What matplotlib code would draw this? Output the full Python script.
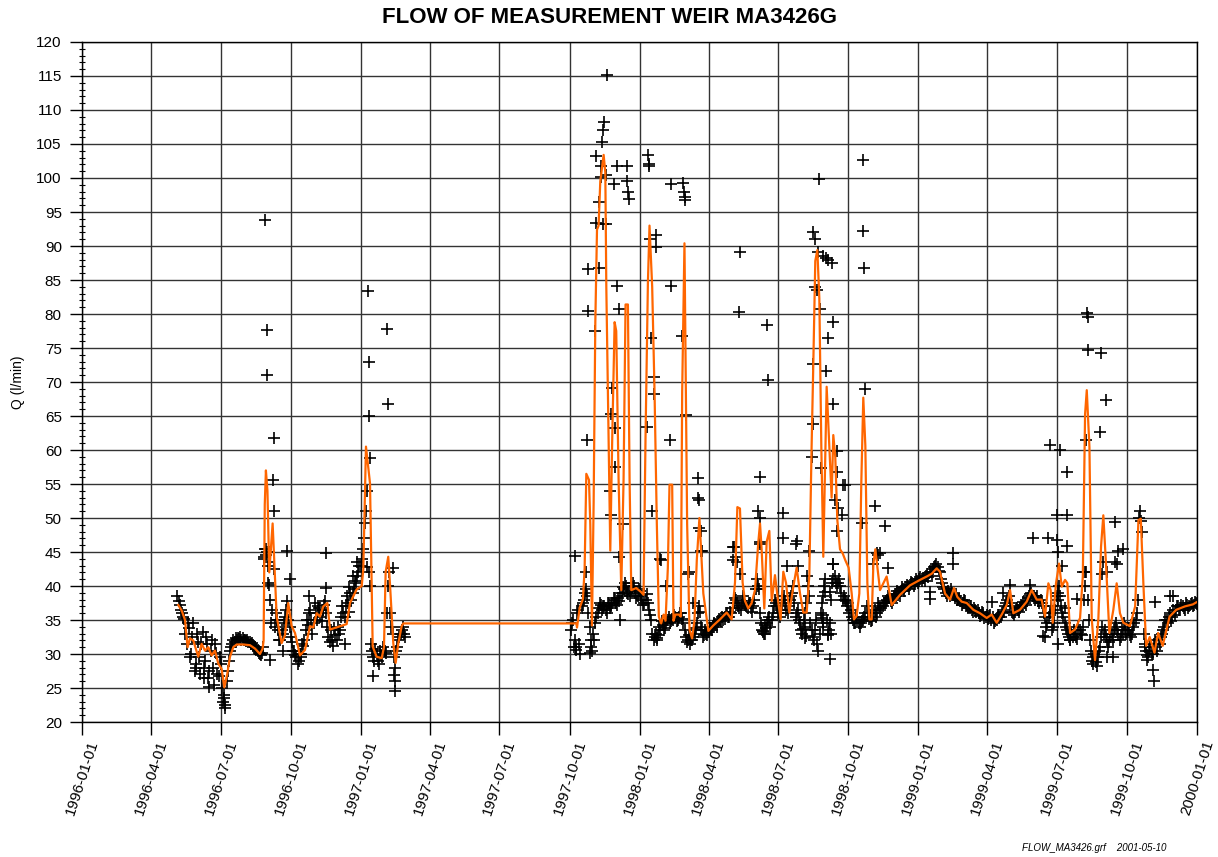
import numpy as np
import matplotlib
matplotlib.use('Agg')
import matplotlib.pyplot as plt
import matplotlib.dates as mdates
from matplotlib.ticker import MultipleLocator

plt.rcParams['font.family'] = ['Liberation Sans', 'DejaVu Sans']

# all times are days counted from 1996-01-01
START = np.datetime64('1996-01-01')
END_DAY = 1461

# daily readings (every 3rd day), 1996-05 .. 1997-02
obs1_start, obs1_step = 125, 3
obs1_q = [
    38.5, 37.2, 36.0, 35.2, 31.5, 33.8, 30.0, 34.5, 28.5, 31.8,
    27.0, 33.2, 29.0, 31.5, 27.5, 32.0, 25.5, 30.2, 26.8, 28.5,
    23.0, 22.5, 27.5, 30.5, 31.5, 31.8, 32.0, 32.2, 32.0, 32.1,
    31.9, 31.7, 31.5, 31.3, 31.0, 30.5, 30.0, 30.2, 44.3, 45.0,
    40.1, 34.5, 42.5, 36.0, 33.5, 32.0, 33.0, 35.5, 37.8, 34.0,
    31.8, 30.5, 29.5, 29.0, 30.0, 31.2, 33.5, 34.2, 36.5, 33.0,
    37.5, 35.0, 36.8, 34.8, 37.2, 36.0, 32.5, 33.5, 31.2, 32.8,
    34.0, 33.5, 37.0, 35.5, 38.5, 36.2, 38.0, 39.5, 40.5, 42.0,
    43.0, 45.5, 49.3, 54.0, 40.0, 30.5, 29.0, 30.0, 28.5, 29.8,
    31.0, 30.2, 40.0, 36.0, 33.0, 28.0, 31.0, 32.5, 33.5, 33.0,
]
# the readings in between (also every 3rd day)
obs1b_start = 126.5
obs1b_q = [
    37.8, 36.5, 35.5, 33.0, 34.5, 29.5, 32.5, 27.5, 33.0, 29.5,
    31.5, 28.0, 32.5, 26.5, 30.5, 28.0, 31.5, 27.0, 29.5, 25.0,
    24.0, 26.0, 29.0, 31.0, 32.0, 32.3, 32.4, 32.5, 32.3, 32.0,
    32.0, 31.8, 31.6, 31.2, 30.8, 30.2, 29.8, 31.0, 45.5, 43.0,
    38.0, 36.5, 34.0, 35.0, 32.0, 33.5, 34.5, 36.5, 35.0, 32.5,
    30.5, 29.8, 28.5, 30.0, 31.5, 32.0, 35.0, 36.0, 35.0, 34.5,
    36.0, 37.0, 35.5, 36.5, 37.8, 34.0, 31.8, 32.0, 33.8, 32.0,
    33.0, 35.5, 36.0, 37.0, 37.5, 39.0, 39.0, 40.8, 41.5, 43.0,
    44.0, 47.0, 51.0, 42.0, 31.5, 29.5, 30.8, 29.0, 30.5, 29.5,
    30.5, 36.0, 42.0, 34.0, 29.5, 30.5, 32.0, 33.0, 34.0, 32.5,
]

# daily readings (every 3rd day), 1997-10 .. 1999-12
obs2_start, obs2_step = 641, 3
obs2_q = [
    33.5, 35.0, 31.0, 36.5, 30.0, 37.5, 39.0, 38.5, 34.0, 30.5,
    32.0, 35.5, 36.8, 37.2, 37.0, 36.5, 37.5, 36.8, 37.5, 38.0,
    37.2, 37.8, 38.5, 39.5, 40.0, 38.8, 39.2, 40.5, 39.0, 38.5,
    39.2, 38.0, 37.5, 38.8, 36.5, 35.0, 32.0, 33.0, 32.8, 33.5,
    34.2, 33.8, 35.0, 34.5, 35.2, 35.8, 34.8, 35.5, 36.0, 34.5,
    32.5, 32.0, 31.5, 32.5, 33.0, 34.5, 37.0, 33.5, 32.8, 33.0,
    33.3, 33.8, 34.0, 34.2, 34.8, 35.0, 35.5, 35.2, 36.0, 35.5,
    36.0, 37.5, 38.0, 37.0, 36.5, 38.5, 37.2, 36.8, 37.5, 36.2,
    38.0, 41.0, 39.5, 34.5, 33.0, 33.8, 35.0, 34.0, 36.0, 38.0,
    37.0, 35.5, 37.5, 38.5, 36.5, 37.0, 38.5, 40.0, 35.5, 36.5,
    34.5, 33.0, 36.0, 41.5, 38.5, 33.5, 32.0, 35.0, 30.5, 36.0,
    38.5, 41.0, 33.0, 34.5, 40.5, 41.5, 40.0, 41.0, 39.0, 38.5,
    37.8, 37.5, 36.5, 35.0, 34.5, 35.0, 34.0, 34.8, 35.5, 37.0,
    35.2, 34.8, 36.0, 35.5, 37.5, 36.5, 37.0, 37.5, 38.0, 38.2,
    37.5, 38.5, 38.8, 39.0, 39.2, 39.5, 39.8, 40.0, 40.2, 40.5,
    40.3, 40.8, 41.0, 40.8, 41.2, 41.5, 41.3, 42.0, 42.5, 43.0,
    42.8, 42.0, 40.5, 39.5, 38.5, 39.0, 39.5, 38.8, 38.5, 38.0,
    37.8, 37.5, 37.8, 37.2, 36.8, 36.5, 36.8, 36.2, 36.0, 35.8,
    36.0, 35.5, 35.2, 35.8, 35.5, 34.8, 35.0, 35.5, 36.0, 36.5,
    37.5, 38.5, 37.5, 36.0, 36.2, 36.5, 36.8, 37.0, 37.5, 37.8,
    38.5, 39.0, 38.5, 38.2, 37.8, 38.0, 37.0, 35.5, 34.5, 36.0,
    33.5, 34.5, 38.5, 40.0, 37.0, 35.5, 34.0, 33.0, 32.0, 32.5,
    33.0, 32.2, 33.5, 32.8, 38.0, 42.0, 35.0, 30.5, 29.5, 28.8,
    29.5, 31.0, 34.0, 33.5, 32.0, 31.8, 33.0, 33.5, 34.5, 33.0,
    32.5, 33.0, 34.0, 33.5, 32.8, 33.0, 34.5, 36.0, 50.0, 49.5,
    33.0, 30.5, 29.5, 31.0, 30.0, 32.0, 30.5, 31.5, 33.0, 34.0,
    35.0, 35.5, 34.8, 36.5, 36.5, 37.0, 36.8, 37.0, 36.5, 37.2,
    37.0, 37.5, 37.2, 37.5,
]
obs2b_start = 642.5
obs2b_q = [
    34.5, 32.0, 36.0, 31.5, 37.0, 38.0, 39.5, 36.0, 31.0, 33.0,
    34.5, 36.0, 37.5, 36.5, 37.0, 36.0, 37.2, 37.0, 38.2, 37.5,
    38.2, 39.0, 39.8, 40.5, 39.0, 38.5, 39.8, 40.0, 38.2, 39.5,
    38.5, 37.2, 38.0, 37.5, 35.8, 33.0, 32.5, 32.0, 34.0, 34.8,
    33.5, 34.5, 35.5, 34.8, 35.0, 35.5, 35.0, 36.0, 35.2, 33.5,
    31.8, 32.8, 32.0, 33.5, 33.8, 36.0, 34.0, 32.5, 33.5, 32.8,
    33.8, 33.5, 34.5, 34.0, 35.2, 34.8, 35.0, 36.0, 35.5, 36.2,
    36.8, 38.2, 37.5, 36.8, 37.5, 37.8, 37.0, 37.5, 36.8, 37.0,
    39.5, 40.0, 36.0, 33.5, 34.2, 34.5, 35.5, 35.0, 37.0, 37.5,
    36.0, 36.5, 38.0, 37.5, 36.0, 38.0, 39.0, 37.5, 36.0, 35.0,
    33.5, 35.0, 37.5, 40.0, 34.5, 32.5, 33.5, 31.5, 33.0, 37.5,
    40.0, 35.0, 33.5, 38.0, 41.0, 40.5, 40.5, 40.0, 38.0, 38.0,
    37.0, 36.0, 35.5, 34.5, 35.5, 34.5, 34.5, 35.0, 36.0, 36.0,
    35.5, 35.0, 36.5, 36.0, 37.0, 36.8, 37.5, 37.8, 38.5, 37.8,
    38.0, 38.8, 39.2, 38.5, 39.8, 39.2, 40.2, 39.6, 40.6, 40.0,
    41.0, 40.5, 41.3, 41.2, 40.8, 41.8, 42.0, 41.5, 42.8, 43.3,
    42.2, 41.0, 39.8, 39.0, 39.2, 38.5, 39.0, 38.2, 38.0, 38.3,
    37.2, 38.0, 37.0, 36.8, 37.0, 36.2, 36.4, 36.5, 35.6, 36.2,
    35.3, 35.8, 35.6, 35.0, 34.6, 35.2, 35.8, 35.4, 36.2, 37.0,
    38.0, 37.0, 36.2, 35.8, 36.8, 36.2, 37.2, 37.6, 37.2, 38.2,
    38.8, 38.6, 38.0, 38.5, 37.5, 37.5, 36.0, 34.0, 35.5, 37.0,
    34.0, 36.5, 39.0, 38.5, 36.0, 34.5, 33.5, 32.5, 33.0, 33.5,
    32.5, 34.0, 33.0, 34.0, 40.0, 38.0, 32.0, 29.0, 30.0, 29.5,
    30.5, 32.5, 33.0, 32.5, 31.0, 32.5, 32.0, 34.0, 33.5, 32.0,
    33.5, 34.5, 33.0, 33.5, 32.5, 34.0, 35.0, 38.0, 51.0, 48.0,
    31.5, 29.8, 30.5, 30.0, 31.5, 31.0, 32.0, 32.5, 33.5, 35.0,
    34.5, 36.0, 35.5, 35.8, 37.0, 36.5, 37.2, 36.8, 37.5, 36.8,
    37.3, 37.0, 37.6, 37.4,
]

# single readings off the main band (day, Q)
extra_1996 = [
    (240, 93.8), (242, 77.6), (243, 71.0), (252, 61.8), (250, 55.6), (251, 51.1),
    (241, 44.5), (244, 40.5), (247, 29.1), (268, 45.1), (273, 41.0), (320, 44.8),
    (320, 39.7), (375, 83.4), (376, 73.0), (376.5, 65.0), (377, 58.8), (373, 42.8),
    (400, 77.8), (401, 66.7), (408, 42.6), (381, 26.8), (409, 26.9), (409.5, 24.5),
    (410, 26.1), (187, 22.0), (186, 23.5), (167, 25.2), (150, 28.0), (160, 26.5),
    (256, 35.0), (263, 30.5), (287, 29.5), (297, 38.5), (316, 36.5), (345, 31.5),
    (350, 39.8), (355, 41.5), (360, 43.5), (238, 44.0), (239.5, 45.5), (244.5, 43.5),
    (245.5, 45.0),
]
extra_1997 = [
    (645.5, 44.4), (661.7, 61.4), (662.6, 80.5), (663.4, 86.6), (671.7, 77.5),
    (673.5, 103.2), (673.5, 93.4), (677.8, 96.5), (677.8, 86.8), (679.6, 101.7),
    (681.7, 105.3), (683.0, 107.0), (684.4, 108.3), (687.5, 115.2), (680.5, 100.1),
    (683.0, 93.2), (686.0, 93.2), (686.0, 100.5), (692.6, 65.3), (691.3, 54.0),
    (693.5, 50.4), (694.8, 69.1), (697.5, 99.1), (697.9, 63.3), (698.5, 57.5),
    (701.0, 84.1), (701.4, 101.8), (703.2, 80.7), (703.5, 44.2), (708.8, 49.1),
    (713.7, 101.8), (714.5, 99.5), (715.8, 98.0), (717.0, 96.9), (741.6, 103.4),
    (742.5, 102.1), (743.0, 101.8), (743.6, 91.1), (745.8, 76.4), (747.0, 51.0),
    (749.0, 70.7), (750.0, 68.2), (751.5, 89.8), (752.0, 91.6), (740.6, 63.4),
    (756.7, 43.9), (764.6, 40.0), (769.8, 61.4), (771.8, 99.1), (772.0, 84.1),
    (786.4, 76.8), (787.9, 99.2), (789.0, 98.0), (789.5, 97.2), (790.0, 96.7),
    (791.6, 65.1), (806.9, 55.9), (807.5, 53.0), (809.0, 52.6), (809.0, 48.6),
    (811.0, 48.1), (811.0, 45.2), (795.0, 42.0), (800.0, 37.5), (809.5, 36.2),
    (645.0, 31.1), (647.0, 30.6), (665.0, 30.1), (667.0, 32.1), (705.0, 35.0),
    (753.0, 32.3), (799.5, 32.1), (661.0, 42.1), (759.0, 43.8), (794.0, 41.8),
    (812.0, 45.2),
]
extra_1998 = [
    (862.1, 89.1), (860.8, 80.3), (897.1, 78.4), (899.3, 70.3), (888.3, 56.1),
    (886.0, 51.1), (888.5, 50.0), (853.5, 45.7), (857.0, 44.3), (853.5, 43.8),
    (888.5, 46.5), (919.0, 50.8), (919.0, 47.0), (936.4, 46.6), (958.0, 92.1),
    (960.0, 91.0), (966.0, 99.8), (964.8, 89.1), (971.3, 88.6), (974.8, 88.3),
    (978.0, 88.0), (982.2, 87.5), (960.4, 83.9), (962.6, 83.5), (967.0, 80.7),
    (983.5, 78.8), (978.0, 76.4), (974.8, 71.6), (958.2, 72.7), (983.5, 66.8),
    (958.2, 63.8), (956.0, 59.0), (967.8, 57.3), (988.8, 59.8), (988.8, 56.7),
    (996.7, 54.9), (999.7, 54.9), (986.6, 52.7), (991.0, 51.4), (995.3, 50.5),
    (988.8, 48.1), (984.4, 43.2), (1022.9, 102.6), (1022.9, 92.2), (1025.0, 86.7),
    (1025.9, 69.0), (1039.0, 51.8), (1052.0, 48.8), (1021.5, 49.2), (1041.2, 44.8),
    (1056.5, 42.7), (973.5, 39.1), (980.0, 29.3), (969.1, 35.3), (971.3, 34.0),
    (981.0, 32.9), (947.3, 32.3), (945.1, 33.7), (892.7, 33.4), (894.9, 32.9),
    (892.6, 33.3), (947.0, 34.0), (949.0, 32.6), (971.4, 34.5), (971.4, 35.7),
    (977.0, 32.8), (854.0, 45.7), (858.0, 43.5), (862.0, 41.8), (888.0, 46.2),
    (923.1, 43.0), (938.4, 43.0), (936.0, 46.2), (953.0, 45.2), (984.6, 43.3),
    (980.0, 39.1), (1045.8, 44.8),
]
extra_1999 = [
    (1043.0, 44.5), (1036.9, 43.3), (1141.7, 44.8), (1141.7, 43.3), (1111.1, 38.1),
    (1111.1, 39.1), (1192.0, 37.6), (1207.2, 38.9), (1216.0, 40.1), (1242.2, 40.1),
    (1246.5, 47.0), (1268.4, 60.7), (1266.2, 47.0), (1277.1, 50.4), (1290.2, 50.4),
    (1281.5, 60.0), (1290.2, 56.8), (1277.1, 46.7), (1279.3, 45.0), (1283.7, 43.0),
    (1290.2, 45.9), (1259.7, 32.7), (1261.8, 32.5), (1279.3, 37.9), (1288.0, 36.7),
    (1303.3, 38.1), (1314.2, 42.1), (1315.6, 61.4), (1318.0, 74.7), (1317.0, 80.2),
    (1318.5, 79.5), (1335.0, 74.3), (1334.0, 62.7), (1341.3, 67.4), (1353.6, 49.4),
    (1357.9, 45.2), (1363.6, 45.5), (1353.6, 43.5), (1355.8, 43.3), (1338.3, 43.5),
    (1342.6, 42.1), (1336.1, 41.8), (1312.0, 42.1), (1406.0, 37.6), (1425.6, 38.6),
    (1430.0, 38.6), (1403.8, 27.6), (1404.7, 26.1), (1395.1, 29.1), (1392.9, 31.0),
    (1325.2, 28.6), (1329.5, 28.3), (1342.6, 29.6), (1351.4, 29.6), (1279.3, 31.5),
    (1294.6, 32.0),
]

# smoothed flow (orange curve)
line1_day = [
    126.2, 130.6, 135.0, 138.4, 141.5, 145.8, 152.4, 156.8, 161.2, 165.5,
    169.9, 174.3, 178.6, 183.0, 186.5, 190.4, 193.9, 198.3, 202.7, 211.4,
    220.1, 226.7, 233.2, 236.7, 238.0, 239.5, 241.0, 243.0, 245.4, 249.8,
    255.1, 261.6, 265.9, 270.3, 274.7, 279.1, 285.6, 292.2, 298.7, 303.1,
    307.5, 311.8, 316.2, 321.5, 325.0, 346.8, 351.2, 359.9, 366.5, 368.6,
    372.1, 377.4, 380.9, 386.1, 392.7, 395.7, 397.9, 401.3, 403.5, 407.9,
    411.0, 414.5, 418.9, 421.0,
]
line1_q = [
    37.2, 36.4, 35.0, 31.0, 32.3, 32.0, 29.6, 31.5, 30.5, 31.0,
    29.8, 30.5, 28.6, 27.8, 25.1, 27.1, 29.6, 31.0, 31.4, 31.4,
    31.3, 30.8, 30.0, 30.8, 32.0, 52.0, 57.0, 54.0, 42.0, 49.2,
    35.5, 31.6, 32.7, 37.5, 34.1, 33.1, 29.8, 30.6, 34.1, 33.9,
    36.0, 35.5, 37.0, 37.5, 33.6, 34.4, 37.5, 39.5, 40.0, 42.4,
    60.5, 55.1, 31.1, 29.6, 29.4, 31.0, 42.1, 44.3, 40.4, 31.6,
    28.7, 31.6, 34.1, 34.5,
]
line2_day = [
    647.7, 648.6, 652.1, 656.4, 658.6, 660.8, 664.3, 666.0, 668.2, 670.4,
    672.6, 674.8, 676.9, 679.1, 681.3, 683.5, 685.7, 687.0, 689.1, 692.2,
    694.8, 697.9, 700.0, 703.1, 706.6, 709.6, 712.2, 715.3, 717.5, 719.7,
    726.2, 732.7, 735.8, 738.4, 741.5, 743.6, 747.1, 750.2, 753.2, 755.8,
    758.9, 762.0, 764.6, 767.6, 769.8, 773.3, 775.0, 777.6, 782.0, 784.6,
    786.4, 788.1, 789.4, 790.7, 792.9, 796.0, 799.4, 802.5, 805.6, 809.0,
    814.1, 820.7, 827.2, 836.0, 844.7, 851.2, 855.6, 858.7, 862.1, 865.6,
    868.7, 873.0, 877.4, 881.8, 886.2, 888.4, 890.5, 894.0, 897.1, 900.6,
    903.7, 908.0, 911.5, 915.4, 918.9, 922.4, 926.8, 932.0, 936.4, 940.8,
    945.1, 949.5, 953.0, 956.0, 958.2, 960.8, 963.5, 966.1, 968.7, 971.3,
    975.7, 979.2, 982.2, 984.4, 987.0, 989.7, 993.2, 996.7, 1000.1, 1004.5,
    1008.5, 1011.5, 1015.0, 1018.5, 1021.1, 1023.7, 1026.4, 1029.0, 1031.6, 1034.7,
    1036.9, 1039.5, 1043.4,
    1045.6, 1054.3, 1060.9, 1071.8, 1084.9, 1098.0, 1106.8, 1113.3, 1119.9, 1124.2,
    1130.8, 1137.3, 1142.6, 1146.9, 1152.6, 1159.2, 1167.9, 1176.6, 1185.4, 1191.9,
    1198.5, 1205.0, 1211.6, 1216.0, 1220.3, 1229.0, 1237.8, 1244.3, 1250.9, 1257.4,
    1261.8, 1266.2, 1269.2, 1271.9, 1276.2, 1280.2, 1283.7, 1288.0, 1291.1, 1294.6,
    1301.1, 1307.7,
    1311.3, 1314.3, 1316.5, 1320.0, 1323.0, 1327.3, 1331.7, 1335.2, 1338.2, 1341.7,
    1346.1, 1351.3, 1355.7, 1360.0, 1364.4, 1373.0, 1379.9, 1384.2, 1387.3, 1390.8,
    1394.3, 1399.0, 1405.2, 1410.0, 1416.0, 1425.0, 1433.7, 1445.0, 1455.6, 1460.0,
]
line2_q = [
    34.5, 33.9, 36.8, 38.1, 42.6, 56.5, 55.6, 49.1, 34.2, 52.3,
    78.8, 92.4, 93.0, 99.5, 101.4, 103.4, 100.8, 84.0, 68.5, 45.2,
    62.0, 78.8, 77.5, 55.6, 39.4, 55.6, 81.4, 81.4, 55.6, 39.4,
    39.7, 39.1, 38.7, 62.0, 84.6, 93.0, 84.0, 68.5, 49.1, 35.5,
    34.5, 35.8, 34.9, 42.6, 54.9, 54.9, 34.9, 35.8, 35.8, 35.5,
    68.5, 81.4, 90.4, 75.0, 49.1, 33.6, 32.3, 34.9, 43.9, 50.0,
    38.9, 33.4, 34.2, 35.1, 36.1, 35.1, 40.5, 51.6, 51.4, 40.5,
    37.8, 36.7, 37.5, 39.4, 46.5, 49.2, 45.4, 36.7, 46.5, 48.1,
    37.8, 41.6, 38.3, 35.1, 42.1, 40.5, 36.1, 39.9, 42.7, 38.9,
    36.1, 36.1, 41.6, 60.6, 72.6, 87.8, 89.4, 82.3, 60.6, 44.3,
    69.3, 60.6, 53.0, 62.2, 59.0, 49.7, 45.4, 44.8, 43.8, 42.7,
    38.9, 35.1, 35.6, 38.9, 55.2, 67.7, 60.6, 40.5, 35.1, 35.1,
    43.2, 45.4, 41.6,
    39.4, 41.4, 37.2, 38.7, 40.1, 40.9, 41.4, 41.8, 42.6, 42.1,
    38.9, 38.0, 39.7, 38.4, 37.7, 37.5, 36.5, 36.0, 35.3, 35.8,
    34.6, 35.8, 37.2, 39.4, 36.0, 36.5, 37.7, 39.4, 38.0, 38.0,
    35.5, 40.4, 39.4, 34.6, 40.4, 43.3, 39.9, 40.9, 40.4, 33.1,
    33.6, 35.3,
    41.4, 65.3, 68.8, 60.4, 35.2, 29.1, 35.2, 45.8, 50.4, 43.3,
    33.1, 36.5, 40.4, 36.0, 34.6, 34.1, 37.0, 49.7, 49.9, 40.0,
    31.2, 32.5, 30.2, 33.1, 31.2, 35.5, 36.5, 37.0, 37.3, 37.6,
]


def to_num(days):
    return mdates.date2num(START) + np.asarray(days, dtype=float)


obs_day = np.concatenate([
    obs1_start + obs1_step * np.arange(len(obs1_q)),
    obs1b_start + obs1_step * np.arange(len(obs1b_q)),
    obs2_start + obs2_step * np.arange(len(obs2_q)),
    obs2b_start + obs2_step * np.arange(len(obs2b_q)),
])
obs_q = np.concatenate([obs1_q, obs1b_q, obs2_q, obs2b_q])
extras = extra_1996 + extra_1997 + extra_1998 + extra_1999
ex_day = [d for d, q in extras]
ex_q = [q for d, q in extras]

fig = plt.figure(figsize=(12.18, 8.57), dpi=100)
ax = fig.add_axes([0.0673, 0.1575, 0.9155, 0.7935])

ax.plot(to_num(obs_day), obs_q, ls='none', marker='+', ms=9, mew=1.2,
        color='black', zorder=3)
ax.plot(to_num(ex_day), ex_q, ls='none', marker='+', ms=9, mew=1.2,
        color='black', zorder=3)
ax.plot(to_num(line1_day + line2_day), line1_q + line2_q,
        color='#ff6600', lw=1.6, zorder=4)

ax.set_ylim(20, 120)
ax.set_xlim(to_num([0])[0], to_num([END_DAY])[0])
ax.yaxis.set_major_locator(MultipleLocator(5))
ax.yaxis.set_minor_locator(MultipleLocator(1))
ax.xaxis.set_major_locator(mdates.MonthLocator(bymonth=[1, 4, 7, 10]))
ax.xaxis.set_major_formatter(mdates.DateFormatter('%Y-%m-%d'))

ax.set_axisbelow(True)
ax.grid(True, which='major', color='#333333', lw=1.0)
for s in ax.spines.values():
    s.set_color('black')
    s.set_linewidth(1.0)

ax.tick_params(axis='y', which='major', direction='out', length=8.5, width=1,
               labelsize=11, pad=6)
ax.tick_params(axis='y', which='minor', direction='inout', length=4, width=0.8)
ax.tick_params(axis='x', which='major', direction='out', length=9, width=1,
               labelsize=11, pad=3)
for lab in ax.get_xticklabels():
    lab.set_rotation(72)
    lab.set_ha('center')

fig.text(0.5, 0.9796, 'FLOW OF MEASUREMENT WEIR MA3426G', ha='center',
         va='center', fontsize=16, weight='bold')
fig.text(18 / 1218, 1 - 382 / 857, 'Q (l/min)', rotation=90, ha='center',
         va='center', fontsize=10)
fig.text(0.958, 0.0105, 'FLOW_MA3426.grf    2001-05-10', ha='right',
         va='center', fontsize=7, style='italic')

fig.savefig('out.png', dpi=100)
